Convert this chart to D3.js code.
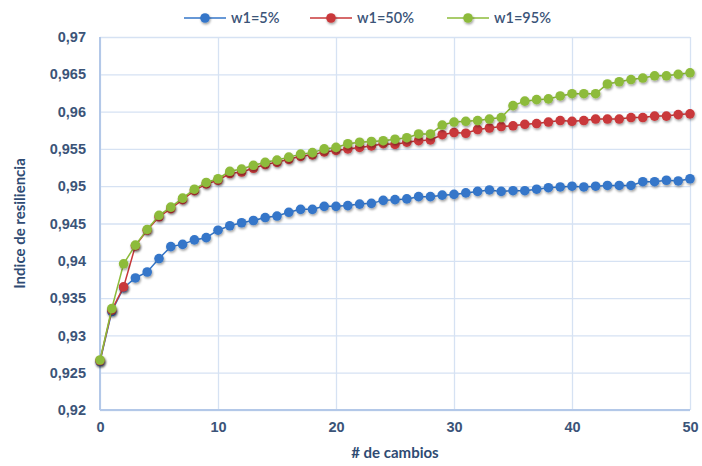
<!DOCTYPE html>
<html>
<head>
<meta charset="utf-8">
<script src="https://cdn.jsdelivr.net/npm/d3@7"></script>
<style>
  html, body { margin: 0; padding: 0; background: #ffffff; }
  svg { display: block; font-family: Lato, "Open Sans", "Liberation Sans", sans-serif; }
</style>
</head>
<body>
<svg id="chart" width="702" height="466"></svg>
<script>
// Número de cambios (eje X)
const cambios = d3.range(0, 51);

// Índice de resiliencia por peso w1
const w1_5 = [
  0.9265, 0.9332, 0.9364, 0.9377, 0.9385, 0.9403, 0.9419, 0.9422, 0.9428, 0.9431,
  0.9441, 0.9447, 0.9451, 0.9454, 0.9458, 0.9460, 0.9465, 0.9469, 0.9469, 0.9473,
  0.9473, 0.9474, 0.9476, 0.9477, 0.9481, 0.9482, 0.9483, 0.9486, 0.9486, 0.9488,
  0.9489, 0.9491, 0.9493, 0.9495, 0.9493, 0.9494, 0.9494, 0.9496, 0.9498, 0.9499,
  0.9500, 0.9499, 0.9500, 0.9501, 0.9501, 0.9501, 0.9506, 0.9506, 0.9508, 0.9507,
  0.9510
];
const w1_50 = [
  0.9266, 0.9334, 0.9365, 0.9420, 0.9441, 0.9459, 0.9470, 0.9482, 0.9494, 0.9503,
  0.9508, 0.9517, 0.9519, 0.9524, 0.9529, 0.9532, 0.9536, 0.9540, 0.9542, 0.9546,
  0.9548, 0.9550, 0.9552, 0.9554, 0.9557, 0.9556, 0.9559, 0.9561, 0.9562, 0.9569,
  0.9572, 0.9571, 0.9576, 0.9578, 0.9580, 0.9581, 0.9583, 0.9584, 0.9586, 0.9588,
  0.9587, 0.9588, 0.9590, 0.9590, 0.9590, 0.9592, 0.9592, 0.9594, 0.9594, 0.9596,
  0.9597
];
const w1_95 = [
  0.9267, 0.9336, 0.9396, 0.9421, 0.9442, 0.9461, 0.9472, 0.9484, 0.9496, 0.9505,
  0.9510, 0.9520, 0.9523, 0.9528, 0.9532, 0.9535, 0.9539, 0.9543, 0.9545, 0.9550,
  0.9552, 0.9557, 0.9559, 0.9560, 0.9561, 0.9563, 0.9565, 0.9570, 0.9570, 0.9582,
  0.9586, 0.9587, 0.9588, 0.9590, 0.9592, 0.9608, 0.9614, 0.9616, 0.9617, 0.9621,
  0.9624, 0.9624, 0.9624, 0.9637, 0.9640, 0.9643, 0.9645, 0.9648, 0.9648, 0.9650,
  0.9652
];

const seriesNames = ["w1=5%", "w1=50%", "w1=95%"];
const seriesColors = ["#3476c9", "#c9383a", "#8dbb3a"];
const seriesValues = [w1_5, w1_50, w1_95];

const xTicks = [0, 10, 20, 30, 40, 50];
const yTicks = [0.92, 0.925, 0.93, 0.935, 0.94, 0.945, 0.95, 0.955, 0.96, 0.965, 0.97];

const xTitle = "# de cambios";
const yTitle = "Indice de resiliencia";

const svg = d3.select("#chart");
const plot = { left: 100, right: 690, top: 37, bottom: 410 };

const x = d3.scaleLinear().domain([0, 50]).range([plot.left, plot.right]);
const y = d3.scaleLinear().domain([0.92, 0.97]).range([plot.bottom, plot.top]);

const textColor = "#3b5478";
const gridColor = "#d6e2f3";
const axisColor = "#b3c8e8";

// soft drop shadow under markers
const defs = svg.append("defs");
const f = defs.append("filter").attr("id", "shadow")
  .attr("x", "-60%").attr("y", "-60%").attr("width", "220%").attr("height", "220%");
f.append("feDropShadow").attr("dx", 0.8).attr("dy", 1.6)
  .attr("stdDeviation", 1.1).attr("flood-color", "#000").attr("flood-opacity", 0.38);

// gridlines
const fmt = v => String(+v.toFixed(3)).replace(".", ",");
const yAxis = d3.axisLeft(y).tickValues(yTicks).tickSize(-(plot.right - plot.left)).tickPadding(14).tickFormat(fmt);
const gy = svg.append("g").attr("transform", `translate(${plot.left},0)`).call(yAxis);
gy.select(".domain").remove();
gy.selectAll(".tick line").attr("stroke", gridColor).attr("stroke-width", 1.3);
gy.selectAll(".tick text").attr("fill", textColor).attr("font-size", 14.5).attr("font-weight", 600);

const xAxis = d3.axisBottom(x).tickValues(xTicks).tickSize(-(plot.bottom - plot.top)).tickPadding(12).tickFormat(d3.format("d"));
const gx = svg.append("g").attr("transform", `translate(0,${plot.bottom})`).call(xAxis);
gx.select(".domain").remove();
gx.selectAll(".tick line").attr("stroke", gridColor).attr("stroke-width", 1.3);
gx.selectAll(".tick text").attr("fill", textColor).attr("font-size", 14.5).attr("font-weight", 600);

// axis lines
svg.append("line").attr("x1", plot.left).attr("x2", plot.left).attr("y1", plot.top).attr("y2", plot.bottom)
  .attr("stroke", axisColor).attr("stroke-width", 2);
svg.append("line").attr("x1", plot.left).attr("x2", plot.right).attr("y1", plot.bottom).attr("y2", plot.bottom)
  .attr("stroke", axisColor).attr("stroke-width", 2);

// series
const line = d3.line().x((d, i) => x(cambios[i])).y(d => y(d));
seriesValues.forEach((vals, s) => {
  const g = svg.append("g");
  g.append("path").datum(vals).attr("d", line)
    .attr("fill", "none").attr("stroke", seriesColors[s]).attr("stroke-width", 1.5);
  g.selectAll("circle").data(vals).join("circle")
    .attr("cx", (d, i) => x(cambios[i])).attr("cy", d => y(d)).attr("r", 4.8)
    .attr("fill", seriesColors[s]).attr("filter", "url(#shadow)");
});

// legend
const legendX = [184, 310, 447];
const lg = svg.append("g");
seriesNames.forEach((name, s) => {
  const lx = legendX[s];
  lg.append("line").attr("x1", lx).attr("x2", lx + 42).attr("y1", 18).attr("y2", 18)
    .attr("stroke", seriesColors[s]).attr("stroke-width", 1.5);
  lg.append("circle").attr("cx", lx + 21).attr("cy", 18).attr("r", 4.8)
    .attr("fill", seriesColors[s]).attr("filter", "url(#shadow)");
  lg.append("text").attr("x", lx + 47).attr("y", 23).text(name)
    .attr("fill", textColor).attr("font-size", 14.5).attr("font-weight", 600);
});

// axis titles
svg.append("text").attr("x", (plot.left + plot.right) / 2).attr("y", 458)
  .attr("text-anchor", "middle").attr("fill", "#2f4b73").attr("font-size", 15).attr("font-weight", 700)
  .text(xTitle);
svg.append("text").attr("transform", `translate(25,${(plot.top + plot.bottom) / 2}) rotate(-90)`)
  .attr("text-anchor", "middle").attr("fill", "#2f4b73").attr("font-size", 15).attr("font-weight", 700)
  .text(yTitle);
</script>
</body>
</html>
